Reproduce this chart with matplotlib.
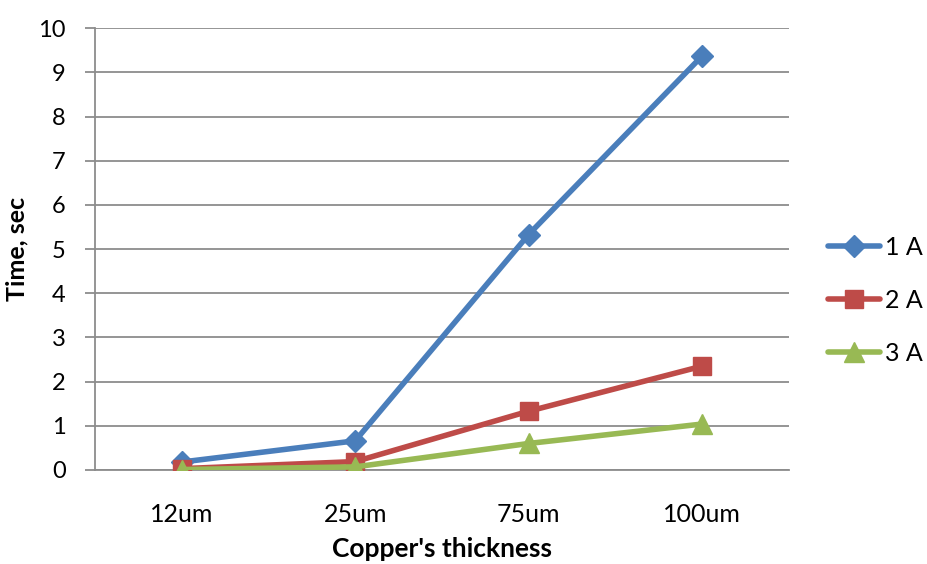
import matplotlib.pyplot as plt

categories = ["12um", "25um", "75um", "100um"]
series_names = ["1 A", "2 A", "3 A"]
time_1a = [0.18, 0.66, 5.33, 9.37]
time_2a = [0.03, 0.19, 1.33, 2.35]
time_3a = [0.01, 0.07, 0.60, 1.04]
y_ticks = list(range(0, 11))

plt.rcParams['font.family'] = ['Lato', 'DejaVu Sans']

fig = plt.figure(figsize=(9.28, 5.64), dpi=100)
ax = fig.add_axes([0.1024, 0.1667, 0.7476, 0.7833])

x = list(range(len(categories)))
styles = [
    (time_1a, "#4A7EBB", "D", 11),
    (time_2a, "#BE4B48", "s", 13),
    (time_3a, "#98B954", "^", 14),
]
for (vals, color, marker, ms), name in zip(styles, series_names):
    ax.plot(x, vals, color=color, lw=4, marker=marker, ms=ms,
            markeredgecolor=color, solid_capstyle='round', label=name, zorder=3)

ax.set_xlim(-0.5, len(categories) - 0.5)
ax.set_ylim(0, 10)
ax.set_yticks(y_ticks)
ax.set_xticks(x)
ax.set_xticklabels(categories)
ax.yaxis.grid(True, color="#8C8C8C", lw=1.3)
ax.set_axisbelow(True)
for s in ["top", "right"]:
    ax.spines[s].set_visible(False)
for s in ["left", "bottom"]:
    ax.spines[s].set_color("#8C8C8C")
    ax.spines[s].set_linewidth(1.3)
ax.tick_params(axis='both', colors="#8C8C8C", labelcolor="black")
ax.tick_params(axis='x', labelsize=18, length=0, pad=24)
ax.tick_params(axis='y', labelsize=17, length=7, width=1.3, pad=14)

ax.set_xlabel("Copper's thickness", fontsize=19, fontweight='bold', labelpad=8)
ax.set_ylabel("Time, sec", fontsize=18, fontweight='bold', labelpad=7)

fig.legend(loc='center left', bbox_to_anchor=(0.892, 0.468), frameon=False,
           fontsize=18, handlelength=2.1, handletextpad=0.2, labelspacing=1.2,
           borderpad=0, borderaxespad=0)

fig.savefig("out.png", dpi=100)
